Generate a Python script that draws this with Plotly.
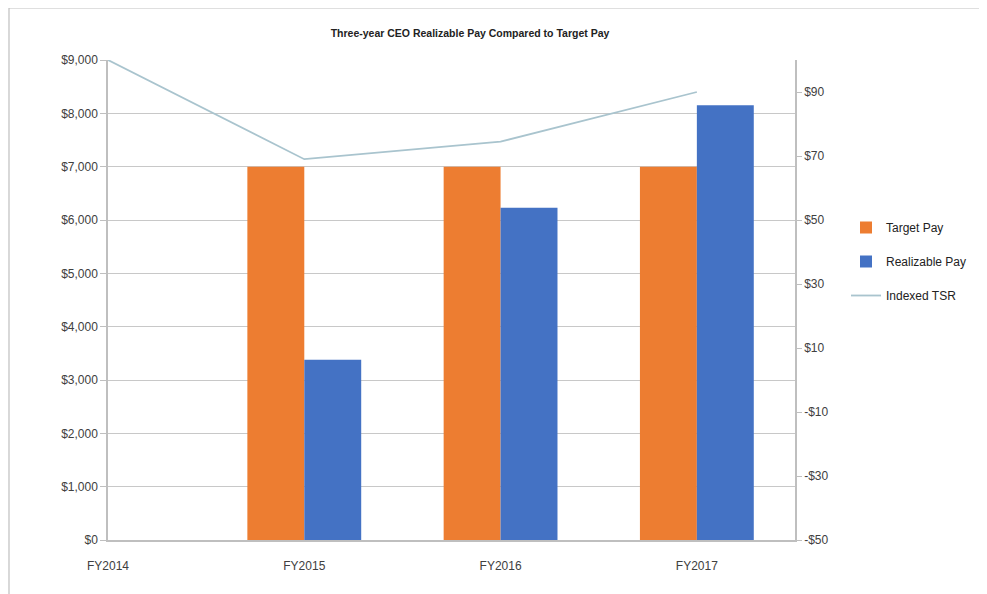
import plotly.graph_objects as go

categories = ["FY2014", "FY2015", "FY2016", "FY2017"]
target_pay = [None, 7000, 7000, 7000]
realizable_pay = [None, 3380, 6230, 8150]
indexed_tsr = [100, 69, 74.5, 90]

left_ticks = list(range(0, 9001, 1000))
left_labels = ["$" + format(v, ",") for v in left_ticks]
right_ticks = [-50, -30, -10, 10, 30, 50, 70, 90]
right_labels = [("-$" if v < 0 else "$") + str(abs(v)) for v in right_ticks]

OFF = 8  # page body offset
W, H = 987, 594
L, R, T, B = 108 - OFF, 192 + OFF, 60 - OFF, 54 + OFF

fig = go.Figure()
fig.add_trace(go.Bar(x=categories, y=target_pay, name="Target Pay", legendgroup="a",
                     marker=dict(color="#ED7D31", line=dict(width=0))))
fig.add_trace(go.Bar(x=categories, y=realizable_pay, name="Realizable Pay", legendgroup="b",
                     marker=dict(color="#4472C4", line=dict(width=0))))
fig.add_trace(go.Scatter(x=categories, y=indexed_tsr, name="Indexed TSR", yaxis="y2",
                         legendgroup="c",
                         mode="lines", line=dict(color="#A9C4CE", width=1.8)))

pw = W - L - R
ph = H - T - B
def px_x(p):
    return (p - OFF - L) / pw
def px_y(p):
    return 1 - (p - OFF - T) / ph

fig.update_layout(
    width=W, height=H,
    margin=dict(l=L, r=R, t=T, b=B),
    paper_bgcolor="white", plot_bgcolor="white",
    font=dict(family="Liberation Sans, Arial, sans-serif", size=12, color="#404040"),
    title=dict(text="<b>Three-year CEO Realizable Pay Compared to Target Pay</b>",
               x=(470 - OFF) / W, xanchor="center", y=1 - (33 - OFF) / H, yanchor="middle",
               font=dict(size=10.5, color="#222222", family="Liberation Sans, Arial, sans-serif")),
    barmode="group", bargap=0.42, bargroupgap=0,
    xaxis=dict(type="category", range=[0, 3.5], showgrid=False,
               showline=True, linecolor="#BFBFBF", linewidth=1.5,
               ticks="outside", ticklen=14, tickcolor="rgba(0,0,0,0)",
               tickfont=dict(size=12, color="#404040"),
               zeroline=False),
    yaxis=dict(range=[0, 9000], tickvals=left_ticks, ticktext=left_labels,
               showgrid=True, gridcolor="#C8C8C8", gridwidth=1.3,
               showline=True, linecolor="#BFBFBF", linewidth=1.5,
               ticks="outside", ticklen=6, tickcolor="#BFBFBF",
               tickfont=dict(size=12, color="#404040"), zeroline=False),
    yaxis2=dict(range=[-50, 100], overlaying="y", side="right",
                tickvals=right_ticks, ticktext=right_labels,
                showgrid=False, showline=True, linecolor="#BFBFBF", linewidth=1.5,
                ticks="outside", ticklen=5, tickcolor="#BFBFBF",
                tickfont=dict(size=12, color="#404040"), zeroline=False),
    legend=dict(x=px_x(846), y=px_y(213), xanchor="left", yanchor="top",
                font=dict(size=12, color="#222222"), tracegroupgap=15,
                traceorder="grouped",
                itemwidth=30, bgcolor="rgba(0,0,0,0)"),
    showlegend=True,
)

# outer chart border (top and left edges visible in the reference)
fig.add_shape(type="line", xref="paper", yref="paper",
              x0=px_x(9), x1=px_x(995), y0=px_y(8), y1=px_y(8),
              line=dict(color="#BFBFBF", width=1.2), layer="below")
fig.add_shape(type="line", xref="paper", yref="paper",
              x0=px_x(9), x1=px_x(9), y0=px_y(8), y1=px_y(602),
              line=dict(color="#BFBFBF", width=1.2), layer="below")

fig.write_html("out.html")
